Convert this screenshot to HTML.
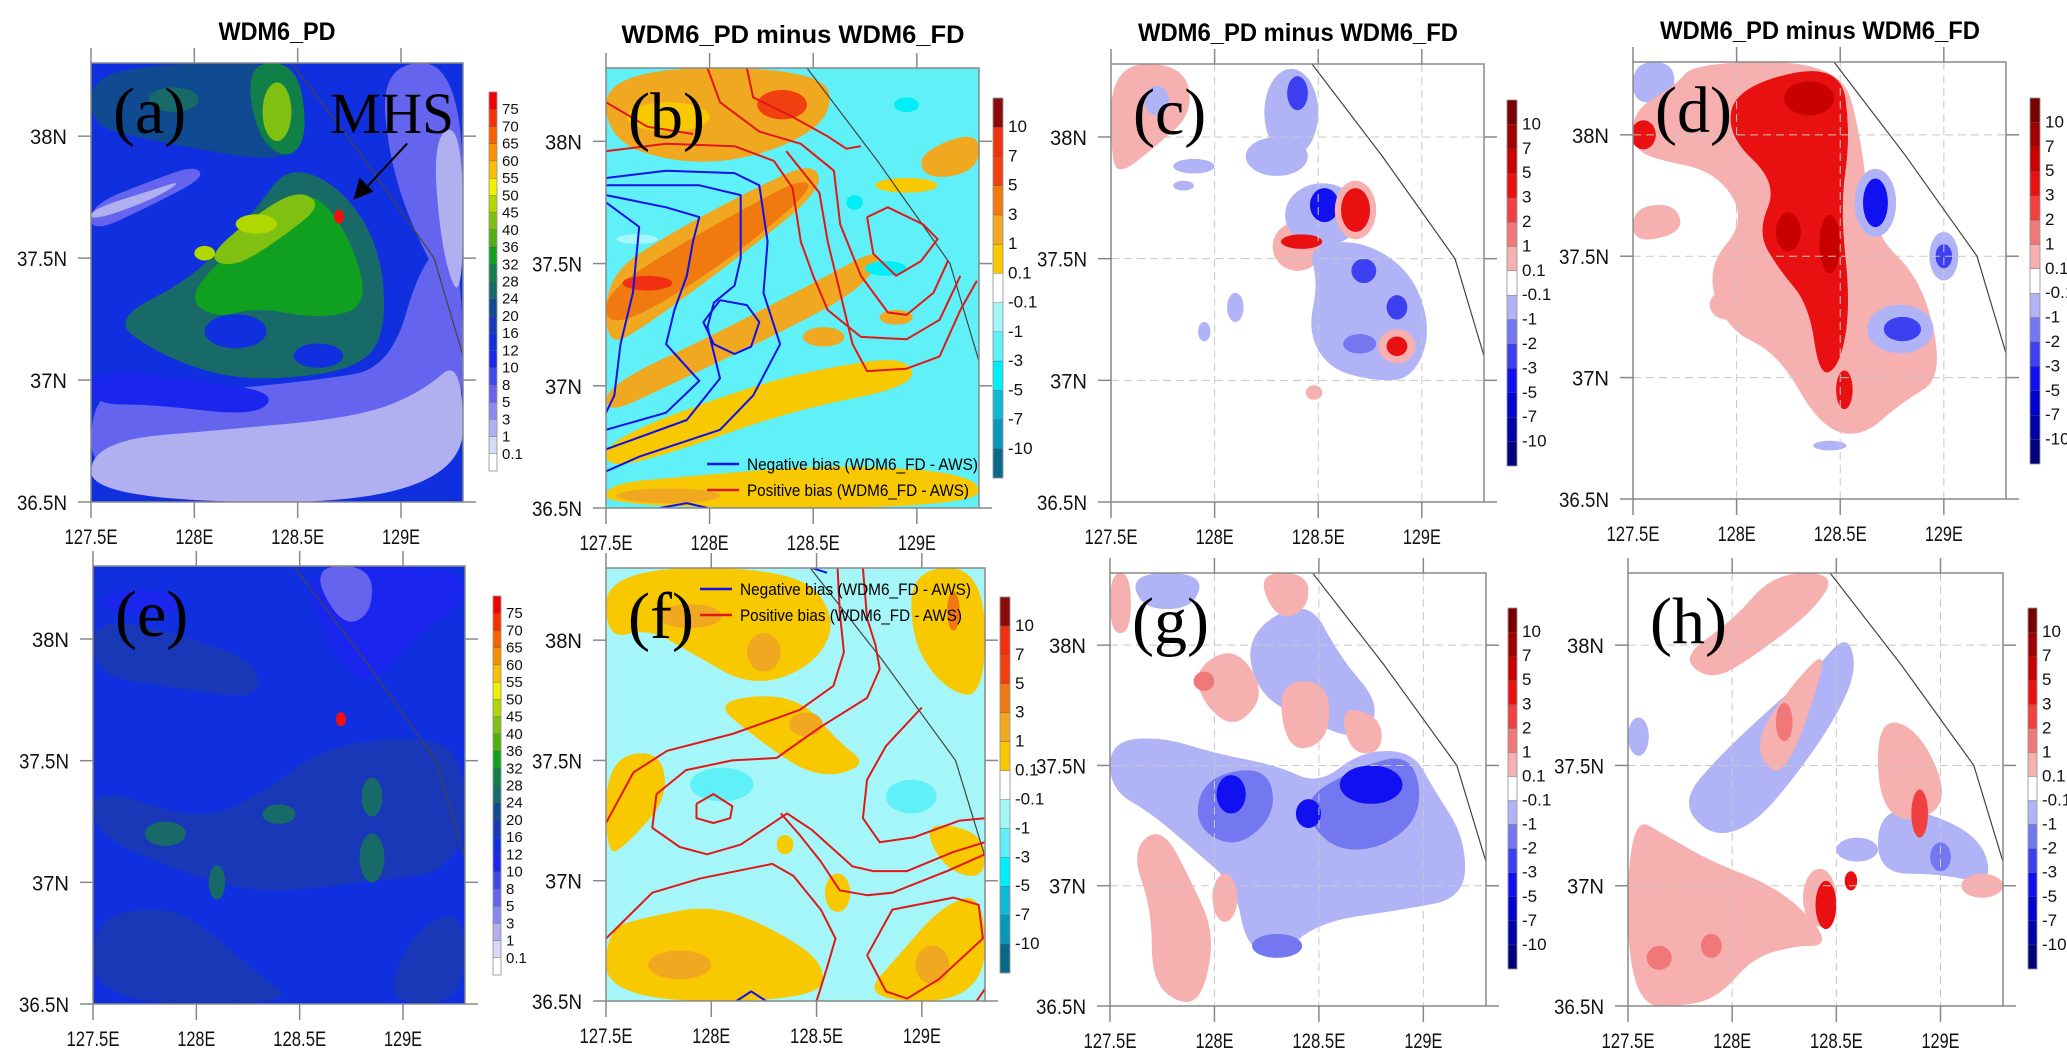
<!DOCTYPE html>
<html><head><meta charset="utf-8"><style>
html,body{margin:0;padding:0;background:#fff;width:2067px;height:1064px;overflow:hidden}
svg text{font-family:"Liberation Sans Narrow","Liberation Sans",sans-serif}
</style></head><body>
<svg id="fig" width="2067" height="1064" viewBox="0 0 2067 1064" xmlns="http://www.w3.org/2000/svg"></svg>
<script>
// ---------- data ----------
const lonTicks=[127.5,128,128.5,129];
const lonLabels=["127.5E","128E","128.5E","129E"];
const latTicks=[36.5,37,37.5,38];
const latLabels=["36.5N","37N","37.5N","38N"];
const precipLevels=[0.1,1,3,5,8,10,12,16,20,24,28,32,36,40,45,50,55,60,65,70,75];
const biasLevels=[-10,-7,-5,-3,-1,-0.1,0.1,1,3,5,7,10];
const diffLevels=[-10,-7,-5,-3,-2,-1,-0.1,0.1,1,2,3,5,7,10];
const coastLon=[128.47,128.81,129.16,129.3];
const coastLat=[38.3,37.92,37.5,37.1];
const stationLon=128.70, stationLat=37.67;

// shapes: ['p', value, [lon,lat,...]]  or ['e', value, lon, lat, rLon, rLat]
const shapesA=[
 ['p',6,[127.5,37.0,128.0,36.95,128.6,37.0,128.95,37.05,129.1,37.5,129.3,37.6,129.3,36.5,127.5,36.5]],
 ['p',2,[127.5,36.75,128.2,36.8,128.8,36.85,129.1,36.95,129.3,37.1,129.3,36.5,127.5,36.5]],
 ['p',11,[127.5,37.05,128.0,37.0,128.4,36.95,128.3,36.85,127.8,36.9,127.5,36.9]],
 ['p',6,[128.9,38.3,129.3,38.3,129.3,37.3,129.15,37.45,128.95,37.85]],
 ['p',2,[129.15,38.0,129.3,38.05,129.3,37.3,129.2,37.5]],
 ['p',6,[127.5,37.72,127.8,37.82,128.0,37.88,128.05,37.83,127.8,37.72,127.5,37.6]],
 ['p',2,[127.5,37.7,127.8,37.78,127.95,37.82,127.8,37.74,127.5,37.65]],
 ['p',22,[127.5,38.25,127.9,38.3,128.5,38.3,128.55,37.95,128.35,37.9,128.0,37.95,127.7,38.0,127.5,38.05]],
 ['p',26,[127.6,37.25,128.0,37.42,128.3,37.7,128.45,37.88,128.7,37.8,128.9,37.55,128.93,37.2,128.8,37.05,128.4,37.0,128.1,37.02,127.8,37.12]],
 ['p',34,[127.95,37.35,128.3,37.62,128.55,37.8,128.75,37.6,128.85,37.3,128.6,37.25,128.3,37.3,128.1,37.25]],
 ['p',42,[128.05,37.5,128.3,37.68,128.5,37.78,128.62,37.72,128.45,37.6,128.2,37.46]],
 ['e',48,128.3,37.64,0.1,0.04],
 ['e',48,128.05,37.52,0.05,0.03],
 ['p',30,[128.25,38.3,128.5,38.3,128.55,38.0,128.45,37.9,128.3,38.0]],
 ['e',42,128.4,38.1,0.07,0.12],
 ['e',26,127.9,38.15,0.12,0.05],
 ['e',14,128.2,37.2,0.15,0.07],
 ['e',14,128.6,37.1,0.12,0.05]
];
const shapesE=[
 ['p',18,[127.5,37.4,128.0,37.25,128.3,37.35,128.6,37.55,129.0,37.6,129.3,37.55,129.3,37.05,128.8,37.0,128.3,36.95,127.9,37.05,127.5,37.2]],
 ['p',18,[127.5,36.85,127.8,36.9,128.0,36.85,128.3,36.62,128.5,36.5,127.5,36.5]],
 ['p',18,[127.5,38.1,128.0,38.0,128.3,37.9,128.3,37.75,127.9,37.8,127.5,37.85]],
 ['p',18,[128.9,36.5,129.3,36.5,129.3,36.9,129.05,36.8]],
 ['p',11,[128.5,38.3,129.3,38.3,129.3,38.15,129.05,38.0,128.85,37.8,128.7,37.9,128.6,38.05]],
 ['p',6,[128.55,38.3,128.85,38.3,128.85,38.1,128.7,38.05]],
 ['e',11,127.75,38.15,0.2,0.05],
 ['e',24,127.85,37.2,0.1,0.05],
 ['e',24,128.85,37.1,0.06,0.1],
 ['e',24,128.4,37.28,0.08,0.04],
 ['e',24,128.85,37.35,0.05,0.08],
 ['e',24,128.1,37.0,0.04,0.07]
];
const shapesB=[
 ['p',2,[127.5,38.3,128.55,38.3,128.6,38.1,128.3,37.95,127.9,37.9,127.5,38.0]],
 ['e',0.5,127.8,38.1,0.2,0.06],
 ['e',6,128.35,38.15,0.12,0.06],
 ['p',2,[127.5,37.45,127.8,37.62,128.2,37.8,128.5,37.92,128.55,37.8,128.1,37.5,127.7,37.25,127.5,37.15]],
 ['p',4,[127.5,37.38,127.8,37.55,128.2,37.74,128.45,37.85,128.5,37.8,128.1,37.52,127.7,37.3,127.5,37.25]],
 ['e',8,127.7,37.42,0.12,0.03],
 ['p',1,[127.5,37.0,128.0,37.2,128.5,37.42,128.85,37.58,128.75,37.4,128.3,37.2,127.8,37.0,127.5,36.88]],
 ['p',0.5,[127.5,36.78,128.2,37.0,128.6,37.08,128.95,37.12,129.0,37.0,128.4,36.9,127.8,36.72,127.5,36.66]],
 ['p',0.5,[127.5,36.5,129.3,36.5,129.3,36.64,128.6,36.68,127.9,36.63,127.5,36.6]],
 ['e',2,127.8,36.55,0.25,0.03],
 ['p',1,[129.0,37.95,129.3,38.05,129.3,37.88,129.05,37.84]],
 ['e',0.5,128.95,37.82,0.15,0.03],
 ['e',-0.5,127.65,37.6,0.1,0.02],
 ['e',-4,128.85,37.48,0.1,0.03],
 ['e',-4,128.95,38.15,0.06,0.03],
 ['e',-4,128.7,37.75,0.04,0.03],
 ['e',1,128.55,37.2,0.1,0.04],
 ['e',1,128.9,37.28,0.08,0.03]
];
const shapesF=[
 ['p',0.5,[127.5,38.3,128.4,38.3,128.6,38.1,128.5,37.9,128.2,37.8,127.9,37.95,127.7,38.05,127.5,38.0]],
 ['e',2,127.9,38.1,0.15,0.05],
 ['e',2,128.25,37.95,0.08,0.08],
 ['p',0.5,[127.5,37.5,127.75,37.55,127.8,37.35,127.6,37.15,127.5,37.1]],
 ['p',0.5,[128.95,38.3,129.3,38.3,129.3,37.75,129.1,37.8,128.95,38.0]],
 ['e',4,129.15,38.12,0.03,0.08],
 ['p',0.5,[128.0,37.75,128.4,37.78,128.6,37.58,128.75,37.48,128.5,37.42,128.2,37.6]],
 ['e',2,128.45,37.65,0.08,0.05],
 ['p',0.5,[127.5,36.5,128.5,36.5,128.55,36.65,128.3,36.8,128.0,36.9,127.7,36.85,127.5,36.8]],
 ['e',2,127.85,36.65,0.15,0.06],
 ['p',0.5,[128.7,36.5,129.3,36.5,129.3,36.95,129.1,36.9,128.9,36.7]],
 ['e',2,129.05,36.65,0.08,0.08],
 ['p',0.5,[129.0,37.25,129.3,37.2,129.3,37.0,129.1,37.05]],
 ['e',0.5,128.6,36.95,0.06,0.08],
 ['e',0.5,128.35,37.15,0.04,0.04],
 ['e',-2,128.05,37.4,0.15,0.07],
 ['e',-2,128.95,37.35,0.12,0.07]
];
const shapesC=[
 ['p',0.5,[127.5,38.3,127.85,38.3,127.9,38.1,127.7,37.95,127.55,37.85,127.5,37.9]],
 ['e',-0.5,127.72,38.15,0.06,0.06],
 ['e',-0.5,128.37,38.1,0.13,0.18],
 ['e',-2.5,128.4,38.18,0.05,0.07],
 ['e',-0.5,128.3,37.92,0.15,0.08],
 ['e',-0.5,127.9,37.88,0.1,0.03],
 ['e',0.5,128.4,37.55,0.12,0.1],
 ['e',-0.5,128.52,37.68,0.18,0.13],
 ['e',-3.5,128.53,37.72,0.07,0.07],
 ['e',0.5,128.68,37.7,0.1,0.12],
 ['e',4,128.68,37.7,0.07,0.09],
 ['e',4,128.42,37.57,0.1,0.03],
 ['p',-0.5,[128.45,37.55,128.7,37.58,128.95,37.45,129.05,37.2,128.95,37.0,128.75,37.0,128.55,37.05,128.45,37.2,128.5,37.4]],
 ['e',-2.5,128.72,37.45,0.06,0.05],
 ['e',-2.5,128.88,37.3,0.05,0.05],
 ['e',-1.5,128.7,37.15,0.08,0.04],
 ['e',0.5,128.88,37.14,0.09,0.07],
 ['e',4,128.88,37.14,0.05,0.04],
 ['e',-0.5,127.95,37.2,0.03,0.04],
 ['e',-0.5,128.1,37.3,0.04,0.06],
 ['e',0.5,128.48,36.95,0.04,0.03],
 ['e',-0.5,127.85,37.8,0.05,0.02]
];
const shapesD=[
 ['p',-0.5,[127.5,38.3,127.7,38.3,127.7,38.15,127.5,38.12]],
 ['p',0.5,[127.5,38.1,127.7,38.2,127.8,38.3,128.5,38.3,128.6,38.0,128.65,37.6,128.9,37.4,129.0,37.0,128.8,36.9,128.6,36.75,128.4,36.8,128.2,37.1,127.95,37.2,127.85,37.45,128.05,37.65,127.9,37.85,127.6,37.9,127.5,37.95]],
 ['p',0.5,[127.5,37.7,127.7,37.72,127.75,37.6,127.5,37.55]],
 ['p',3,[128.0,38.2,128.5,38.3,128.55,38.0,128.5,37.7,128.55,37.3,128.5,37.05,128.4,37.0,128.35,37.3,128.2,37.45,128.1,37.6,128.2,37.8,127.95,38.0]],
 ['e',3,127.55,38.0,0.06,0.06],
 ['e',6,128.35,38.15,0.12,0.07],
 ['e',6,128.45,37.55,0.05,0.12],
 ['e',6,128.25,37.6,0.06,0.08],
 ['e',-0.5,128.67,37.72,0.1,0.14],
 ['e',-3.5,128.67,37.72,0.06,0.1],
 ['e',-0.5,129.0,37.5,0.07,0.1],
 ['e',-2.5,129.0,37.5,0.04,0.05],
 ['e',-0.5,128.79,37.2,0.16,0.1],
 ['e',-2.5,128.8,37.2,0.09,0.05],
 ['e',3,128.52,36.95,0.04,0.08],
 ['e',-0.5,128.45,36.72,0.08,0.02],
 ['e',0.5,127.95,37.3,0.08,0.06]
];
const shapesG=[
 ['p',-0.5,[127.5,37.6,127.75,37.62,128.0,37.55,128.3,37.5,128.5,37.42,128.7,37.56,128.95,37.56,129.05,37.4,129.2,37.2,129.2,36.95,128.9,36.9,128.5,36.85,128.3,36.7,128.15,36.75,128.1,37.0,127.9,37.15,127.7,37.3,127.5,37.4]],
 ['p',-1.5,[127.95,37.45,128.25,37.5,128.3,37.3,128.1,37.15,127.9,37.25]],
 ['p',-1.5,[128.4,37.35,128.7,37.5,128.95,37.55,129.0,37.3,128.8,37.15,128.55,37.15]],
 ['e',-3.5,128.75,37.42,0.15,0.08],
 ['e',-3.5,128.08,37.38,0.07,0.08],
 ['e',-3.5,128.45,37.3,0.06,0.06],
 ['p',-0.5,[128.15,38.05,128.45,38.2,128.6,37.95,128.8,37.75,128.7,37.6,128.45,37.68,128.2,37.8]],
 ['p',-0.5,[127.6,38.3,127.95,38.3,127.9,38.15,127.65,38.15]],
 ['p',0.5,[127.9,37.9,128.1,38.0,128.25,37.8,128.1,37.65,127.95,37.75]],
 ['p',0.5,[128.2,38.3,128.45,38.3,128.45,38.15,128.3,38.1]],
 ['p',0.5,[128.3,37.85,128.55,37.85,128.55,37.6,128.35,37.55]],
 ['p',0.5,[128.6,37.75,128.8,37.7,128.8,37.55,128.65,37.55]],
 ['p',0.5,[127.6,37.15,127.75,37.25,127.9,37.0,128.0,36.8,127.95,36.55,127.85,36.5,127.7,36.6,127.7,36.9]],
 ['p',0.5,[127.5,38.3,127.6,38.3,127.6,38.05,127.5,38.05]],
 ['e',0.5,128.05,36.95,0.06,0.1],
 ['e',-1.5,128.3,36.75,0.12,0.05],
 ['e',1.5,127.95,37.85,0.05,0.04]
];
const shapesH=[
 ['p',0.5,[127.5,37.3,127.7,37.2,127.9,37.1,128.2,37.0,128.4,36.85,128.45,36.75,128.3,36.75,128.1,36.7,127.95,36.55,127.8,36.5,127.5,36.5]],
 ['e',0.5,128.42,36.95,0.08,0.12],
 ['e',3,128.45,36.92,0.05,0.1],
 ['e',3,128.57,37.02,0.03,0.04],
 ['e',1.5,127.65,36.7,0.06,0.05],
 ['e',1.5,127.9,36.75,0.05,0.05],
 ['p',-0.5,[127.75,37.35,127.95,37.55,128.2,37.75,128.4,37.9,128.55,38.05,128.6,37.9,128.5,37.7,128.3,37.45,128.1,37.25,127.9,37.2]],
 ['p',0.5,[128.1,37.6,128.3,37.85,128.45,37.98,128.4,37.8,128.3,37.55,128.2,37.45]],
 ['e',1.5,128.25,37.68,0.04,0.08],
 ['p',0.5,[127.75,37.95,128.0,38.1,128.2,38.3,128.5,38.3,128.4,38.15,128.1,37.95,127.9,37.85]],
 ['p',-0.5,[128.7,37.3,128.9,37.32,129.2,37.2,129.25,37.0,129.0,37.05,128.7,37.05]],
 ['e',-1.5,129.0,37.12,0.05,0.06],
 ['p',0.5,[128.7,37.7,128.9,37.65,129.05,37.35,128.85,37.25,128.7,37.35]],
 ['e',2.5,128.9,37.3,0.04,0.1],
 ['e',0.5,129.2,37.0,0.1,0.05],
 ['e',-0.5,127.55,37.62,0.05,0.08],
 ['e',-0.5,128.6,37.15,0.1,0.05]
];
const contourBNeg=[
 [127.5,37.85,127.79,37.88,128.12,37.87,128.24,37.82,128.28,37.59,128.26,37.38,128.34,37.17,128.21,36.96,128.05,36.82,127.66,36.71,127.5,36.65],
 [127.5,37.82,127.95,37.82,128.15,37.78,128.15,37.52,128.12,37.41,128.02,37.34,127.99,37.24,128.05,37.03,127.89,36.86,127.5,36.74],
 [127.5,37.78,127.79,37.73,127.95,37.69,127.92,37.59,127.89,37.45,127.83,37.31,127.79,37.17,127.95,37.02,127.79,36.89,127.5,36.82],
 [128.05,37.35,128.18,37.33,128.24,37.26,128.2,37.16,128.12,37.13,128.02,37.17,127.97,37.26,128.05,37.35],
 [127.5,37.75,127.66,37.65,127.63,37.38,127.57,37.17,127.54,36.96,127.5,36.89],
 [127.76,36.5,127.89,36.52,127.99,36.5]
];
const contourBPos=[
 [127.5,37.96,127.79,37.99,128.12,37.98,128.31,37.92,128.4,37.81,128.44,37.59,128.5,37.45,128.57,37.31,128.73,37.2,128.95,37.19,129.11,37.27,129.21,37.45],
 [127.99,38.3,128.05,38.16,128.24,38.04,128.44,37.99,128.6,37.88,128.63,37.66,128.73,37.45,128.86,37.3,128.95,37.29,129.08,37.38,129.15,37.51],
 [128.18,38.3,128.21,38.18,128.4,38.1,128.57,38.02,128.66,37.97,128.73,37.98],
 [128.76,37.69,128.86,37.73,129.03,37.66,129.1,37.6,129.02,37.51,128.9,37.45,128.79,37.54,128.76,37.69],
 [128.37,37.96,128.53,37.79,128.57,37.59,128.63,37.38,128.69,37.17,128.76,37.06,128.95,37.07,129.11,37.12,129.21,37.31,129.29,37.43],
 [127.5,38.16,127.7,38.06,127.92,38.03]
];
const contourFNeg=[
 [128.12,36.5,128.19,36.54,128.26,36.5],
 [128.48,38.3,128.55,38.28]
];
const contourFPos=[
 [127.93,37.32,128.01,37.36,128.1,37.31,128.09,37.26,128.01,37.24,127.93,37.26,127.93,37.32],
 [127.5,37.24,127.63,37.45,127.79,37.54,128.1,37.61,128.42,37.71,128.58,37.81,128.63,37.95,128.61,38.12,128.6,38.3],
 [127.5,36.76,127.72,36.95,127.95,37.01,128.29,37.07,128.39,37.02,128.52,36.88,128.59,36.76,128.55,36.64,128.5,36.5],
 [128.31,37.51,128.1,37.5,127.88,37.46,127.74,37.36,127.72,37.22,127.85,37.14,127.98,37.11,128.14,37.15,128.36,37.28,128.48,37.21,128.67,37.06,128.77,37.04,128.93,37.04,129.15,37.12,129.3,37.16],
 [128.31,37.51,128.52,37.64,128.74,37.76,128.8,37.88,128.78,37.98,128.74,38.09,128.72,38.3],
 [129.0,37.72,128.83,37.56,128.74,37.42,128.72,37.26,128.8,37.16,128.96,37.18,129.18,37.25,129.3,37.26],
 [129.3,37.11,129.12,37.04,128.86,36.95,128.74,36.94,128.61,36.96,128.52,37.08,128.42,37.19,128.33,37.28],
 [128.74,36.69,128.86,36.88,129.15,36.93,129.27,36.9,129.29,36.76,129.08,36.59,128.93,36.51,128.83,36.54,128.74,36.69],
 [129.3,36.55,129.26,36.5]
];

// ---------- palettes & layout ----------
const precipColors=['#ffffff','#d8d8f8','#b0b0f0','#8888f0','#6464ee','#4048ea','#1a26ee','#1030e0','#1838b8','#104a90','#186a68','#108048','#10a020','#50b010','#80c010','#b0d800','#f0f000','#f8c000','#f89000','#f86000','#f83000','#f00000'];
const biasColors=['#0a6888','#0898b8','#10b8d8','#00eef8','#60f0f8','#a4f6f8','#ffffff','#f8c800','#f0a820','#f07a10','#f04010','#f03010','#8b0a0a'];
const diffColors=['#00007a','#0000a8','#0000d0','#1010f0','#3c40f0','#7478f0','#b0b4f6','#ffffff','#f6b0b0','#f07878','#f04040','#e81010','#c80000','#a00000','#780000'];

const panels=[
 {id:'a',x:91,y:63,w:372,h:439,cb:[489,92,8,379],lv:precipLevels,col:precipColors,bg:14,shapes:shapesA,title:'WDM6_PD',tx:277,ty:40,tl:117,grid:false,dot:true},
 {id:'b',x:606,y:68,w:373,h:440,cb:[993,98,10,380],lv:biasLevels,col:biasColors,bg:-2,shapes:shapesB,title:'WDM6_PD minus WDM6_FD',tx:793,ty:43,tl:343,grid:false,neg:contourBNeg,pos:contourBPos,leg:[707,464]},
 {id:'c',x:1111,y:64,w:373,h:438,cb:[1507,100,10,366],lv:diffLevels,col:diffColors,bg:0,shapes:shapesC,title:'WDM6_PD minus WDM6_FD',tx:1298,ty:41,tl:320,grid:true},
 {id:'d',x:1633,y:62,w:373,h:437,cb:[2030,98,10,366],lv:diffLevels,col:diffColors,bg:0,shapes:shapesD,title:'WDM6_PD minus WDM6_FD',tx:1820,ty:39,tl:320,grid:true},
 {id:'e',x:93,y:566,w:372,h:438,cb:[493,596,8,379],lv:precipLevels,col:precipColors,bg:14,shapes:shapesE,grid:false,dot:true},
 {id:'f',x:606,y:568,w:379,h:433,cb:[1000,597,10,376],lv:biasLevels,col:biasColors,bg:-0.5,shapes:shapesF,grid:false,neg:contourFNeg,pos:contourFPos,leg:[700,589]},
 {id:'g',x:1110,y:573,w:376,h:433,cb:[1508,608,9,361],lv:diffLevels,col:diffColors,bg:0,shapes:shapesG,grid:true},
 {id:'h',x:1628,y:573,w:375,h:433,cb:[2028,608,9,361],lv:diffLevels,col:diffColors,bg:0,shapes:shapesH,grid:true}
];

// ---------- drawing ----------
const NS='http://www.w3.org/2000/svg';
const svg=document.getElementById('fig');
function mk(tag,attrs,parent){const e=document.createElementNS(NS,tag);for(const k in attrs)e.setAttribute(k,attrs[k]);(parent||svg).appendChild(e);return e;}
function xS(p,lon){return p.x+(lon-127.5)/1.8*p.w;}
function yS(p,lat){return p.y+(38.3-lat)/1.8*p.h;}
function colorOf(p,v){let i=0;while(i<p.lv.length&&v>=p.lv[i])i++;return p.col[i];}
function smooth(pts){const n=pts.length;let d='';for(let i=0;i<n;i++){const a=pts[i],b=pts[(i+1)%n];const m=[(a[0]+b[0])/2,(a[1]+b[1])/2];if(i===0){const z=pts[n-1];d+='M'+((z[0]+a[0])/2).toFixed(1)+','+((z[1]+a[1])/2).toFixed(1);}d+=' Q'+a[0].toFixed(1)+','+a[1].toFixed(1)+' '+m[0].toFixed(1)+','+m[1].toFixed(1);}return d+'Z';}
const defs=mk('defs',{});
panels.forEach(p=>{
 const g=mk('g',{});
 
 
 const cp=mk('clipPath',{id:'clip'+p.id},defs);
 mk('rect',{x:p.x,y:p.y,width:p.w,height:p.h},cp);
 const mg=mk('g',{'clip-path':'url(#clip'+p.id+')'},g);
 const bg=mk('rect',{x:p.x,y:p.y,width:p.w,height:p.h,fill:colorOf(p,p.bg)},mg);
 
 
 p.shapes.forEach(s=>{
  let el;
  if(s[0]==='p'){const a=s[2];const pts=[];for(let i=0;i<a.length;i+=2)pts.push([xS(p,a[i]),yS(p,a[i+1])]);
   el=mk('path',{d:smooth(pts),fill:colorOf(p,s[1])},mg);}
  else{el=mk('ellipse',{cx:xS(p,s[2]),cy:yS(p,s[3]),rx:s[4]/1.8*p.w,ry:s[5]/1.8*p.h,fill:colorOf(p,s[1])},mg);}
  
  
 });
 if(p.grid){
  lonTicks.slice(1).forEach(l=>{const ln=mk('line',{x1:xS(p,l),x2:xS(p,l),y1:p.y,y2:p.y+p.h,stroke:'#c8c8c8','stroke-dasharray':'8,5','stroke-width':1},mg);
   });
  latTicks.slice(1).forEach(l=>{const ln=mk('line',{x1:p.x,x2:p.x+p.w,y1:yS(p,l),y2:yS(p,l),stroke:'#c8c8c8','stroke-dasharray':'8,5','stroke-width':1},mg);
   });
 }
 let cd='';coastLon.forEach((l,i)=>{cd+=(i?'L':'M')+xS(p,l).toFixed(1)+','+yS(p,coastLat[i]).toFixed(1);});
 const coast=mk('path',{d:cd,fill:'none',stroke:'#444',"stroke-width":1.2},mg);
 
 
 [['neg','#1010e8'],['pos','#e01818']].forEach(([k,c])=>{
  if(!p[k])return;
  p[k].forEach(a=>{let d='';for(let i=0;i<a.length;i+=2)d+=(i?'L':'M')+xS(p,a[i]).toFixed(1)+','+yS(p,a[i+1]).toFixed(1);
   const ln=mk('path',{d:d,fill:'none',stroke:c,'stroke-width':2,'stroke-linejoin':'round'},mg);
   
   });
 });
 if(p.dot){const dot=mk('ellipse',{cx:xS(p,stationLon),cy:yS(p,stationLat),rx:5,ry:7,fill:'#f01010'},g);
  }
 const fr=mk('rect',{x:p.x,y:p.y,width:p.w,height:p.h,fill:'none',stroke:'#888','stroke-width':1.5},g);
 
 lonTicks.forEach((l,i)=>{const x=xS(p,l);
  mk('line',{x1:x,x2:x,y1:p.y-15,y2:p.y,stroke:'#888','stroke-width':1.5},g);
  mk('line',{x1:x,x2:x,y1:p.y+p.h,y2:p.y+p.h+16,stroke:'#888','stroke-width':1.5},g);
  const t=mk('text',{x:x,y:p.y+p.h+42,'text-anchor':'middle','font-size':21,textLength:lonLabels[i].length>4?53:38,lengthAdjust:'spacingAndGlyphs',fill:'#111'},g);
  t.textContent=lonLabels[i];});
 latTicks.forEach((l,i)=>{const y=yS(p,l);
  mk('line',{x1:p.x-13,x2:p.x,y1:y,y2:y,stroke:'#888','stroke-width':1.5},g);
  mk('line',{x1:p.x+p.w,x2:p.x+p.w+13,y1:y,y2:y,stroke:'#888','stroke-width':1.5},g);
  const t=mk('text',{x:p.x-24,y:y+8,'text-anchor':'end','font-size':21,textLength:latLabels[i].length>3?50:37,lengthAdjust:'spacingAndGlyphs',fill:'#111'},g);
  t.textContent=latLabels[i];});
 const [cx,cy,cw,ch]=p.cb;const n=p.col.length;const bh=ch/n;
 const cbg=mk('g',{},g);
 
 p.col.forEach((c,i)=>{mk('rect',{x:cx,y:cy+ch-(i+1)*bh,width:cw,height:bh,fill:c,stroke:'#555','stroke-width':0.3},cbg);});
 mk('rect',{x:cx,y:cy,width:cw,height:ch,fill:'none',stroke:'#999','stroke-width':0.8},cbg);
 p.lv.forEach((v,i)=>{const t=mk('text',{x:cx+cw+5,y:cy+ch-(i+1)*bh+5,'font-size':p.lv.length>14?15:17,fill:'#111'},cbg);
  t.textContent=String(v);});
 const L=mk('text',{x:p.x+22,y:p.y+70,'font-size':66,fill:'#000',style:'font-family:"Liberation Serif",serif'},g);
 L.textContent='('+p.id+')';
 if(p.title){const t=mk('text',{x:p.tx,y:p.ty,'text-anchor':'middle','font-size':25,'font-weight':'bold',textLength:p.tl,lengthAdjust:'spacingAndGlyphs',fill:'#000'},g);
  t.textContent=p.title;}
 if(p.leg){const [lx,ly]=p.leg;
  [['Negative bias (WDM6_FD - AWS)','#1010e8'],['Positive bias (WDM6_FD - AWS)','#e01818']].forEach(([s,c],i)=>{
   mk('line',{x1:lx,x2:lx+32,y1:ly+i*26,y2:ly+i*26,stroke:c,'stroke-width':2.5},g);
   const t=mk('text',{x:lx+40,y:ly+i*26+6,'font-size':17,textLength:i?222:231,lengthAdjust:'spacingAndGlyphs',fill:'#000'},g);
   t.textContent=s;});}
});
const pa=panels[0];
const mhs=mk('text',{x:330,y:133,'font-size':58,fill:'#000',textLength:124,lengthAdjust:'spacingAndGlyphs',style:'font-family:"Liberation Serif",serif'});
mhs.textContent='MHS';


const ax1=xS(pa,129.03),ay1=yS(pa,37.97),ax2=xS(pa,128.77),ay2=yS(pa,37.74);
const arr=mk('line',{x1:ax1,y1:ay1,x2:ax2+10,y2:ay2-9,stroke:'#000','stroke-width':2});


const ah=mk('path',{d:`M${ax2},${ay2} L${ax2+6},${ay2-22} L${ax2+20},${ay2-8} Z`,fill:'#000'});


</script>
</body></html>
